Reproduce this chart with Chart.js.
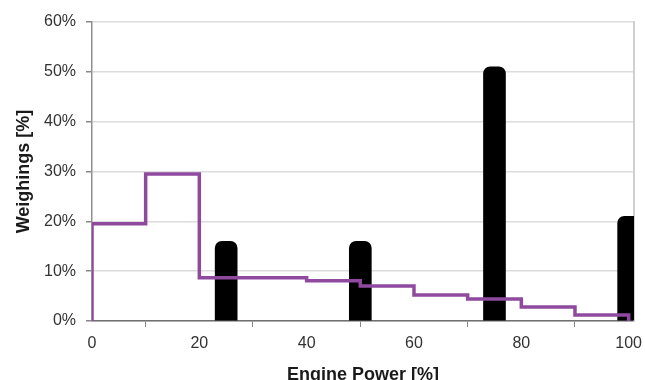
<!DOCTYPE html>
<html>
<head>
<meta charset="utf-8">
<script src="https://cdn.jsdelivr.net/npm/chart.js@4"></script>
<style>
  html, body { margin: 0; padding: 0; background: #fff; }
  #wrap { width: 645px; height: 380px; }
</style>
</head>
<body>
<div id="wrap"><canvas id="myChart" width="645" height="380"></canvas></div>
<script>
var barPower = [25, 50, 75, 100];
var barWeight = [16, 16, 51, 21];

var stepPower = [0, 0, 10, 20, 40, 50, 60, 70, 80, 90, 100];
var stepWeight = [0, 19.5, 29.5, 8.7, 8.1, 7.0, 5.2, 4.4, 2.8, 1.2, 0];

var xTicks = [0, 20, 40, 60, 80, 100];
var yTicks = [0, 10, 20, 30, 40, 50, 60];

document.addEventListener("DOMContentLoaded", function () {
  var barPoints = barPower.map(function (p, i) {
    return { x: p, y: barWeight[i] };
  });
  var stepPoints = stepPower.map(function (p, i) {
    return { x: p, y: stepWeight[i] };
  });

  var ctx = document.getElementById("myChart").getContext("2d");
  var myChart = new Chart(ctx, {
    type: "bar",
    data: {
      datasets: [
        {
          type: "line",
          data: stepPoints,
          stepped: true,
          borderColor: "#8f4a9f",
          borderWidth: 3.5,
          pointRadius: 0,
          fill: false,
          order: 0,
        },
        {
          data: barPoints,
          backgroundColor: "#000000",
          barThickness: 22,
          borderRadius: { topLeft: 7, topRight: 7, bottomLeft: 0, bottomRight: 0 },
          borderSkipped: "start",
          order: 1,
        },
      ],
    },
    options: {
      responsive: false,
      animation: false,
      layout: { padding: { top: 22, right: 11, left: 0, bottom: 0 } },
      plugins: {
        legend: { display: false },
        tooltip: { enabled: false },
      },
      scales: {
        x: {
          type: "linear",
          offset: false,
          min: 0,
          max: 101,
          afterBuildTicks: function (scale) {
            scale.ticks = xTicks.map(function (v) { return { value: v }; });
          },
          afterFit: function (scale) {
            scale.height = 59;
            scale.paddingLeft = 0;
            scale.paddingRight = 0;
          },
          grid: {
            drawOnChartArea: false,
            drawTicks: true,
            tickLength: 6,
            tickColor: "#888888",
          },
          border: { color: "#707070", width: 1.5 },
          ticks: {
            padding: 7,
            color: "#333333",
            font: { family: "Liberation Sans", size: 16 },
          },
          title: {
            display: true,
            text: "Engine Power [%]",
            color: "#1a1a1a",
            font: { family: "Liberation Sans", size: 18, weight: "bold", lineHeight: 1 },
            padding: { top: 0, bottom: -4 },
          },
        },
        y: {
          min: 0,
          max: 60,
          afterBuildTicks: function (scale) {
            scale.ticks = yTicks.map(function (v) { return { value: v }; });
          },
          afterFit: function (scale) { scale.width = 92; },
          grid: {
            color: "#dcdcdc",
            lineWidth: 1.5,
            tickLength: 6,
            tickColor: "#888888",
          },
          border: { color: "#909090", width: 1.5 },
          ticks: {
            padding: 10,
            color: "#333333",
            font: { family: "Liberation Sans", size: 16 },
            callback: function (v) { return v + "%"; },
          },
          title: {
            display: true,
            text: "Weighings [%]",
            color: "#1a1a1a",
            font: { family: "Liberation Sans", size: 18, weight: "bold", lineHeight: 1 },
            padding: { top: 15, bottom: 0 },
          },
        },
        yRight: {
          position: "right",
          min: 0,
          max: 60,
          afterFit: function (scale) { scale.width = 0; },
          grid: { display: false, drawTicks: false },
          ticks: { display: false },
          border: { color: "#d0d0d0", width: 2 },
        },
      },
    },
  });
});
</script>
</body>
</html>
